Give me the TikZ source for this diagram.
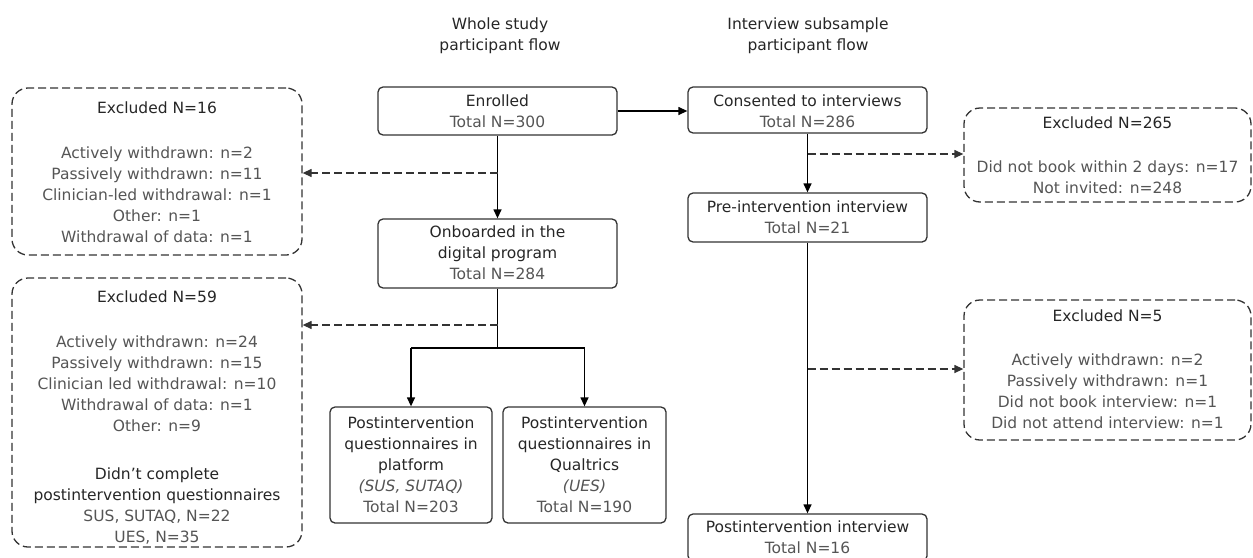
\documentclass[tikz,border=0pt]{standalone}
\usepackage{fontspec}
\setmainfont{DejaVu Sans}
\usetikzlibrary{arrows.meta}
\definecolor{ink}{HTML}{262626}
\definecolor{subc}{HTML}{555555}
\definecolor{edge}{HTML}{333333}
\newcommand\subtxt[1]{\textcolor{subc}{#1}}
\tikzset{
  solidbox/.style={draw=edge, line width=1.3pt, rounded corners=5pt, inner sep=0pt},
  dashbox/.style={draw=edge, line width=1.3pt, rounded corners=16pt, dash pattern=on 8pt off 4pt, inner sep=0pt},
  txt/.style={align=center, inner sep=0pt, font=\fontsize{15.5}{21}\selectfont, text=ink},
  flow/.style={draw=black, line width=1.3pt, -{Triangle[length=9pt,width=8pt]}},
  dflow/.style={flow, draw=edge, dash pattern=on 8pt off 4pt},
  plain/.style={draw=black, line width=1.3pt},
}
\begin{document}
\begin{tikzpicture}[x=1pt,y=-1pt]
\useasboundingbox (0,0) rectangle (1253,557);
\clip (0,0) rectangle (1253,557);

% column titles
\node[txt] (t1) at (500,35.5) {Whole study\\participant flow};
\node[txt] (t2) at (808,35.5) {Interview subsample\\participant flow};

% whole study column
\node[solidbox, minimum width=239pt, minimum height=48pt] (enr) at (497.5,111) {};
\node[txt] (enrT) at (497.5,111) {Enrolled\\\subtxt{Total N=300}};

\node[solidbox, minimum width=239pt, minimum height=69pt] (onb) at (497.5,253.5) {};
\node[txt] (onbT) at (497.5,253) {Onboarded in the\\digital program\\\subtxt{Total N=284}};

\node[solidbox, minimum width=162pt, minimum height=116pt] (plat) at (411,465) {};
\node[txt] (platT) at (411,464.5) {Postintervention\\questionnaires in\\platform\\\subtxt{\itshape (SUS, SUTAQ)}\\\subtxt{Total N=203}};

\node[solidbox, minimum width=163pt, minimum height=116pt] (qual) at (584.5,465) {};
\node[txt] (qualT) at (584.5,464.5) {Postintervention\\questionnaires in\\Qualtrics\\\subtxt{\itshape (UES)}\\\subtxt{Total N=190}};

% exclusion boxes left
\node[dashbox, minimum width=290pt, minimum height=167pt] (ex16) at (157,171.5) {};
\node[txt] (ex16T) at (157,172) {Excluded N=16\\[24pt]\subtxt{Actively withdrawn: n=2}\\\subtxt{Passively withdrawn: n=11}\\\subtxt{Clinician-led withdrawal: n=1}\\\subtxt{Other: n=1}\\\subtxt{Withdrawal of data: n=1}};

\node[dashbox, minimum width=290pt, minimum height=269pt] (ex59) at (157,412.5) {};
\node[txt] (ex59T) at (157,418) {Excluded N=59\\[24pt]\subtxt{Actively withdrawn: n=24}\\\subtxt{Passively withdrawn: n=15}\\\subtxt{Clinician led withdrawal: n=10}\\\subtxt{Withdrawal of data: n=1}\\\subtxt{Other: n=9}\\[27pt]Didn’t complete\\postintervention questionnaires\\\subtxt{SUS, SUTAQ, N=22}\\\subtxt{UES, N=35}};

% interview column
\node[solidbox, minimum width=239pt, minimum height=46pt] (cons) at (807.5,110) {};
\node[txt] (consT) at (807.5,111) {Consented to interviews\\\subtxt{Total N=286}};

\node[solidbox, minimum width=239pt, minimum height=49pt] (pre) at (807.5,217.5) {};
\node[txt] (preT) at (807.5,217) {Pre-intervention interview\\\subtxt{Total N=21}};

\node[solidbox, minimum width=239pt, minimum height=47pt] (post) at (807.5,537.5) {};
\node[txt] (postT) at (807.5,537.5) {Postintervention interview\\\subtxt{Total N=16}};

% exclusion boxes right
\node[dashbox, minimum width=287pt, minimum height=94pt] (ex265) at (1107.5,155) {};
\node[txt] (ex265T) at (1107.5,155) {Excluded N=265\\[23pt]\subtxt{Did not book within 2 days: n=17}\\\subtxt{Not invited: n=248}};

\node[dashbox, minimum width=287pt, minimum height=140pt] (ex5) at (1107.5,370) {};
\node[txt] (ex5T) at (1107.5,369.5) {Excluded N=5\\[23pt]\subtxt{Actively withdrawn: n=2}\\\subtxt{Passively withdrawn: n=1}\\\subtxt{Did not book interview: n=1}\\\subtxt{Did not attend interview: n=1}};

% junction points
\coordinate (j1) at (497.5,173);
\coordinate (j2) at (497.5,325);
\coordinate (j3) at (497.5,348);
\coordinate (k1) at (807.5,154);
\coordinate (k2) at (807.5,369);

% connectors
\draw[flow] (enr) -- (onb);
\draw[dflow] (j1) -- (ex16.east |- j1);
\draw[plain] (onb.south) -- (j3);
\draw[plain] (j3 -| plat.north) -- (j3 -| qual.north);
\draw[flow] (j3 -| plat.north) -- (plat.north);
\draw[flow] (j3 -| qual.north) -- (qual.north);
\draw[dflow] (j2) -- (ex59.east |- j2);
\draw[flow] (enr.east) -- (enr.east -| cons.west);
\draw[flow] (cons) -- (pre);
\draw[dflow] (k1) -- (ex265.west |- k1);
\draw[flow] (pre) -- (post);
\draw[dflow] (k2) -- (ex5.west |- k2);
\end{tikzpicture}
\end{document}
